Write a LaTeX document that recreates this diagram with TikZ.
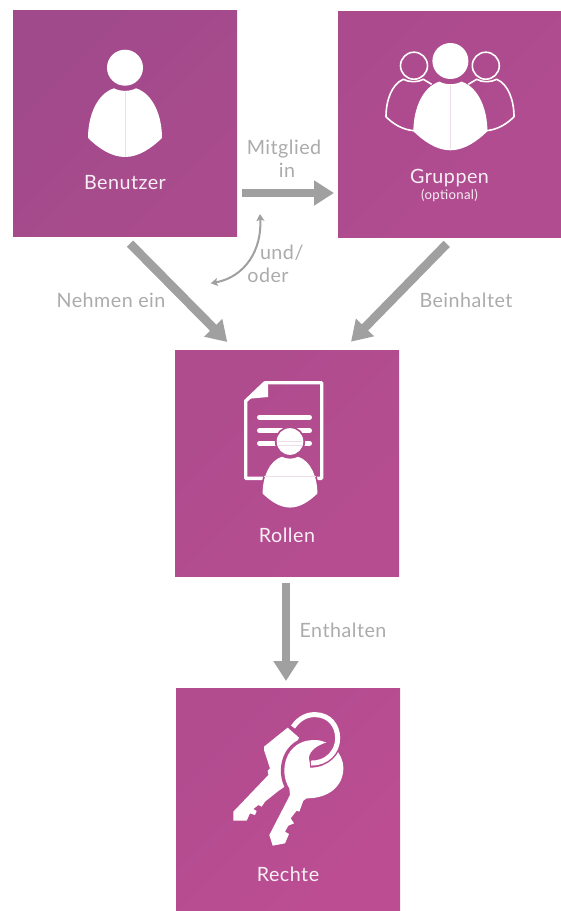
\documentclass[tikz,border=0pt]{standalone}
\usepackage{fontspec}
\setmainfont[LetterSpace=2.5]{Lato}
\usetikzlibrary{arrows.meta,calc}
\definecolor{arrowgray}{HTML}{A0A0A0}
\definecolor{labelgray}{HTML}{ABABAB}
\definecolor{inktext}{HTML}{F8EFF5}
\definecolor{seam}{HTML}{EFDDE9}
\definecolor{halomid}{HTML}{B14C8F}
\definecolor{halokey}{HTML}{B74D91}
\definecolor{benA}{HTML}{A04A8B}\definecolor{benB}{HTML}{AA4B8D}
\definecolor{grpA}{HTML}{AB4B8D}\definecolor{grpB}{HTML}{B24C90}
\definecolor{rolA}{HTML}{AE4C8E}\definecolor{rolB}{HTML}{B64D90}
\definecolor{recA}{HTML}{B24C8F}\definecolor{recB}{HTML}{BD4D93}
\tikzset{
  tile/.style={inner sep=0pt,outer sep=0pt},
  boxlabel/.style={anchor=base,inner sep=0pt,text=inktext,font=\fontsize{19.7}{22}\selectfont},
  flowlabel/.style={anchor=base,inner sep=0pt,text=labelgray,font=\fontsize{19.7}{22}\selectfont},
  bigarrow/.style={draw=arrowgray,line width=8.8pt,-{Triangle[length=20pt,width=24pt]}},
  person/.pic={
    \path[pic actions] (0,0) circle[radius=18];
    \path[pic actions] (-11,20.6) .. controls (-5,24) and (5,24) .. (11,20.6)
      .. controls (28,26) and (37,48) .. (37,70.3)
      .. controls (27,80) and (14,89.3) .. (0,89.3)
      .. controls (-14,89.3) and (-27,80) .. (-37,70.3)
      .. controls (-37,48) and (-28,26) .. (-11,20.6) -- cycle;
  },
}
\begin{document}
\begin{tikzpicture}[x=1pt,y=-1pt]
\useasboundingbox (0,0) rectangle (561,911);
% tiles
\node[tile,top color=benA,bottom color=benB,shading angle=45,minimum width=224pt,minimum height=226.6pt] (ben) at (125,123.3) {};
\node[tile,top color=grpA,bottom color=grpB,shading angle=45,minimum width=223pt,minimum height=226.6pt] (grp) at (449.5,124.3) {};
\node[tile,top color=rolA,bottom color=rolB,shading angle=45,minimum width=224pt,minimum height=226.6pt] (rol) at (287,463.3) {};
\node[tile,top color=recA,bottom color=recB,shading angle=45,minimum width=224pt,minimum height=223pt] (rec) at (288,799.5) {};
% Benutzer icon
\pic[fill=white] at (125,67.7) {person};
\draw[seam,line width=.5pt] (125,92) -- (125,157);
% Gruppen icon
\begin{scope}[draw=white,line width=1.6pt,line join=round]
  \draw (414,65.7) circle[radius=13.5];
  \draw (485.8,65.7) circle[radius=13.5];
  \draw (431.7,84.3) -- (423.3,79.3) .. controls (418,82.5) and (409,82.5) .. (403.3,79.3)
    .. controls (392,84) and (386,100) .. (386,116.7) .. controls (393,124) and (403,130) .. (414.3,130.7);
  \draw (468.3,84.3) -- (476.7,79.3) .. controls (482,82.5) and (491,82.5) .. (496.7,79.3)
    .. controls (508,84) and (514,100) .. (514,116.7) .. controls (507,124) and (497,130) .. (485.7,130.7);
\end{scope}
\pic[fill=white] at (450.4,61) {person};
\draw[seam,line width=.5pt] (450.4,85) -- (450.4,149);
% Rollen icon
\draw[white,line width=3.4pt,line join=round] (265,382.7) -- (321.7,382.7) -- (321.7,478.3) -- (300,478.3)
  (280,478.3) -- (245.7,478.3) -- (245.7,401) -- (265,382.7);
\fill[white,line join=round] (268,381) -- (268,397) -- (246,399) -- (265,381) -- cycle;
\draw[white,line width=5pt,line cap=round]
  (259.5,417.3) -- (309.5,417.3)
  (259.5,430.7) -- (309.5,430.7)
  (259.5,443.3) -- (309.5,443.3);
\pic[scale=.74,fill=white,draw=halomid,line width=3.6pt] at (290,441.5) {person};
\pic[scale=.74,fill=white] at (290,441.5) {person};
\draw[seam,line width=.5pt] (278,441) -- (302,441) (278,445.7) -- (302,445.7) (264,476.7) -- (316,476.7);
% Rechte icon: drawn in the units of a 3x crop
\begin{scope}[shift={(225,705)},x=.33333pt,y=-.33333pt]
  \fill[white] (188,68) -- (222,98) -- (190,170) -- (182,243) -- (160,258) -- (120,290)
    -- (110,305) -- (100,300) -- (85,312) -- (95,318) -- (90,330) -- (75,325) -- (65,347)
    -- (25,347) -- (25,320) -- (130,210) -- (128,197) -- (135,190) -- (117,135) -- (117,125) -- cycle;
  \filldraw[fill=white,draw=halokey,line width=7pt]
    (195,270) -- (193,250) .. controls (160,200) and (180,105) .. (268,105)
    .. controls (315,105) and (355,143) .. (355,190) .. controls (355,240) and (315,280) .. (245,280)
    -- (235,287) -- (223,320) -- (215,317) -- (197,340) -- (207,355) -- (190,362) -- (180,380) -- (192,387)
    -- (180,415) -- (143,422) -- (133,390) -- cycle;
  \fill[white] (195,270) -- (193,250) .. controls (160,200) and (180,105) .. (268,105)
    .. controls (315,105) and (355,143) .. (355,190) .. controls (355,240) and (315,280) .. (245,280)
    -- (235,287) -- (223,320) -- (215,317) -- (197,340) -- (207,355) -- (190,362) -- (180,380) -- (192,387)
    -- (180,415) -- (143,422) -- (133,390) -- cycle;
  \fill[halokey] (300,100) -- (306,112) .. controls (280,120) and (255,135) .. (252,158) -- (254,172) -- (300,160) -- (330,110) -- cycle;
  \draw[halokey,line width=8pt] (272,29) .. controls (312,30) and (338,60) .. (338,100)
    .. controls (338,140) and (305,176) .. (255,176);
  \draw[white,line width=5pt] (204,66) .. controls (225,36) and (250,28) .. (272,29)
    .. controls (312,30) and (338,60) .. (338,100) .. controls (338,140) and (305,176) .. (258,174);
\end{scope}
% connectors
\draw[bigarrow] ($(ben.east)+(5,69.7)$) -- ($(grp.west)+(-4,68.7)$);
\draw[bigarrow] ($(ben.south)+(5,7)$) -- ($(rol.north)+(-59.7,-8)$);
\draw[bigarrow] ($(grp.south)+(-2.8,6.3)$) -- ($(rol.north)+(64,-8.3)$);
\draw[bigarrow] ($(rol.south)+(-1,6)$) -- ($(rec.north)+(-2,-7)$);
\coordinate (swapA) at (260,214);
\coordinate (swapB) at (210.7,283.3);
\draw[arrowgray,line width=2pt,{Stealth[length=7pt,width=8pt,inset=1.5pt]}-{Stealth[length=7pt,width=8pt,inset=1.5pt]}]
  (swapA) .. controls (262,250) and (245,277) .. (swapB);
% labels
\node[boxlabel] (tben) at (125,189.6) {Benutzer};
\node[boxlabel] (tgrp) at (449.5,183.7) {Gruppen};
\node[boxlabel,font=\fontsize{13.2}{15}\selectfont] (topt) at (449.5,199.5) {(optional)};
\node[boxlabel] (trol) at (287,542.7) {Rollen};
\node[boxlabel] (trec) at (288,881.6) {Rechte};
\node[flowlabel] (lmit) at (284,154.5) {Mitglied};
\node[flowlabel] (lin) at (287,177.5) {in};
\node[flowlabel] (lund) at (281.7,259) {und/};
\node[flowlabel] (lod) at (268,282) {oder};
\node[flowlabel] (lneh) at (111,307.5) {Nehmen ein};
\node[flowlabel] (lbei) at (466,307.5) {Beinhaltet};
\node[flowlabel] (lent) at (343,637) {Enthalten};
\end{tikzpicture}
\end{document}
